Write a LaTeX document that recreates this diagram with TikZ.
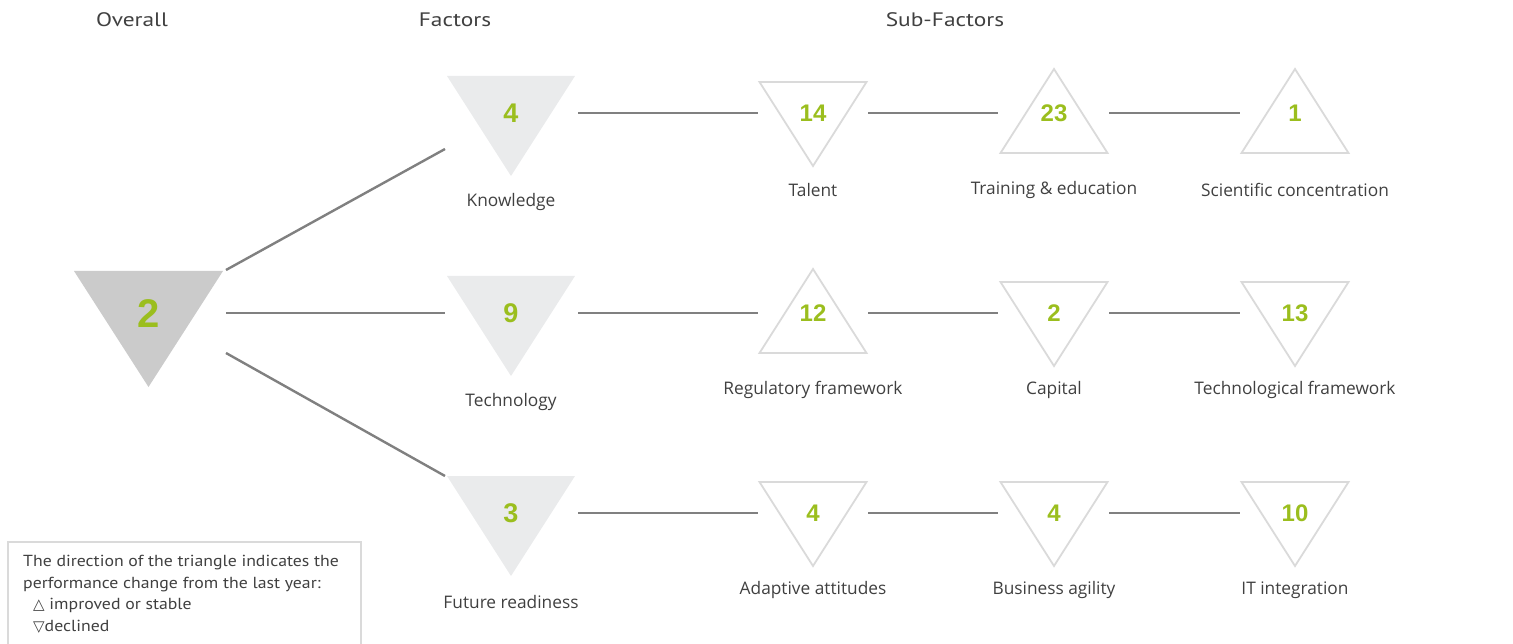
\documentclass[tikz,border=0pt]{standalone}
\usepackage{fontspec}
\setmainfont{Open Sans}
\newfontfamily\hdfont[FakeStretch=1.2]{PT Sans}
\newfontfamily\lgfont[FakeStretch=1.11]{PT Sans}
\newfontfamily\numfont{Liberation Sans}
\newfontfamily\symfont{DejaVu Sans}
\definecolor{linegray}{HTML}{808080}
\definecolor{txtgray}{HTML}{404040}
\definecolor{numgreen}{HTML}{9BBE1E}
\definecolor{ovfill}{HTML}{CBCBCB}
\definecolor{facfill}{HTML}{EAEBEC}
\definecolor{subline}{HTML}{DADADA}
\tikzset{
  conn/.style={draw=linegray, line width=2.4pt},
  subtri/.style={draw=subline, line width=1.8pt, line join=miter},
  numtxt/.style={text=numgreen, font=\numfont\bfseries\fontsize{24}{24}\selectfont, inner sep=0pt},
  factnum/.style={text=numgreen, font=\numfont\bfseries\fontsize{27}{27}\selectfont, inner sep=0pt},
  lbl/.style={text=txtgray, font=\fontsize{17.3}{18}\selectfont, inner sep=0pt},
  hdr/.style={text=txtgray, font=\hdfont\fontsize{19.5}{20}\selectfont, inner sep=0pt},
}
\newcommand\subdown[2]{\draw[subtri] ({#1-53.5},{#2-31}) -- ({#1+53.5},{#2-31}) -- (#1,{#2+53}) -- cycle;}
\newcommand\subup[2]{\draw[subtri] ({#1-53.5},{#2+40}) -- ({#1+53.5},{#2+40}) -- (#1,{#2-44}) -- cycle;}
\newcommand\facdown[2]{\fill[facfill] ({#1-64},{#2-37}) -- ({#1+64},{#2-37}) -- (#1,{#2+63}) -- cycle;}
\begin{document}
\begin{tikzpicture}[x=1pt,y=-1pt]
\useasboundingbox (0,0) rectangle (1513,644);
% headers
\node[hdr] (hOverall) at (132,20) {Overall};
\node[hdr] (hFactors) at (455,20) {Factors};
\node[hdr] (hSub) at (945,20) {Sub-Factors};
% overall triangle
\fill[ovfill] (74,271) -- (223,271) -- (148.5,387) -- cycle;
\node[text=numgreen, font=\numfont\bfseries\fontsize{40}{40}\selectfont, inner sep=0pt] (nOverall) at (148.5,314) {2};
% factor triangles
\facdown{511}{113}
\facdown{511}{313}
\facdown{511}{513}
\node[factnum] (nKnow) at (511,113) {4};
\node[factnum] (nTech) at (511,313) {9};
\node[factnum] (nFut) at (511,513) {3};
\node[lbl] (lKnow) at (511,202) {Knowledge};
\node[lbl] (lTech) at (511,402) {Technology};
\node[lbl] (lFut) at (511,602) {Future readiness};
% sub-factor triangles
\subdown{813}{113} \subup{1054}{113} \subup{1295}{113}
\subup{813}{313} \subdown{1054}{313} \subdown{1295}{313}
\subdown{813}{513} \subdown{1054}{513} \subdown{1295}{513}
\node[numtxt] (nTalent) at (813,113) {14};
\node[numtxt] (nTrain) at (1054,113) {23};
\node[numtxt] (nSci) at (1295,113) {1};
\node[numtxt] (nReg) at (813,313) {12};
\node[numtxt] (nCap) at (1054,313) {2};
\node[numtxt] (nTechF) at (1295,313) {13};
\node[numtxt] (nAdapt) at (813,513) {4};
\node[numtxt] (nBus) at (1054,513) {4};
\node[numtxt] (nIT) at (1295,513) {10};
\node[lbl] (lTalent) at (813,190) {Talent};
\node[lbl] (lTrain) at (1054,190) {Training \& education};
\node[lbl] (lSci) at (1295,190) {Scientific concentration};
\node[lbl] (lReg) at (813,390) {Regulatory framework};
\node[lbl] (lCap) at (1054,390) {Capital};
\node[lbl] (lTechF) at (1295,390) {Technological framework};
\node[lbl] (lAdapt) at (813,590) {Adaptive attitudes};
\node[lbl] (lBus) at (1054,590) {Business agility};
\node[lbl] (lIT) at (1295,590) {IT integration};
% connector end points
\coordinate (oA) at (226,270); \coordinate (kA) at (445,149);
\coordinate (oB) at (226,313); \coordinate (tB) at (445,313);
\coordinate (oC) at (226,353); \coordinate (fC) at (445,476);
\draw[conn] (oA) -- (kA);
\draw[conn] (oB) -- (tB);
\draw[conn] (oC) -- (fC);
\foreach \r in {113,313,513}{
  \coordinate (f\r) at (578,\r); \coordinate (s1l\r) at (758,\r);
  \coordinate (s1r\r) at (868,\r); \coordinate (s2l\r) at (998,\r);
  \coordinate (s2r\r) at (1109,\r); \coordinate (s3l\r) at (1240,\r);
  \draw[conn] (f\r) -- (s1l\r);
  \draw[conn] (s1r\r) -- (s2l\r);
  \draw[conn] (s2r\r) -- (s3l\r);
}
% legend
\draw[draw=subline, line width=1.3pt] (8,650) -- (8,542) -- (361,542) -- (361,650);
\node[text=txtgray, font=\lgfont\fontsize{16}{21.7}\selectfont, inner sep=0pt, anchor=north west, align=left] (legend) at (23,555)
  {The direction of the triangle indicates the\\
   performance change from the last year:\\
   \hspace*{10pt}{\symfont\fontsize{15}{15}\selectfont △} improved or stable\\
   \hspace*{10pt}{\symfont\fontsize{15}{15}\selectfont ▽}declined};
\end{tikzpicture}
\end{document}
